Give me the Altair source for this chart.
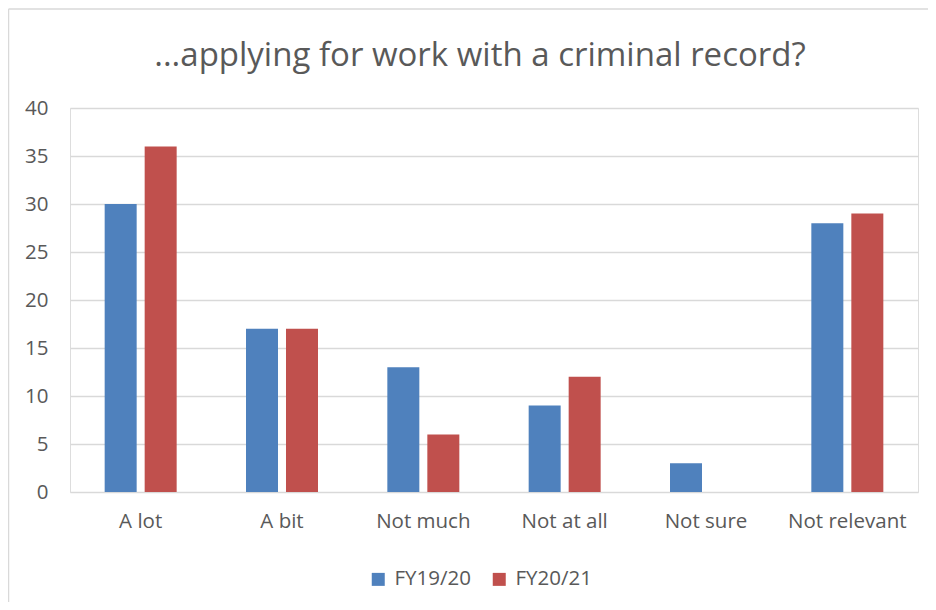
import altair as alt
import pandas as pd

categories = ["A lot", "A bit", "Not much", "Not at all", "Not sure", "Not relevant"]
series = ["FY19/20", "FY20/21"]
fy1920 = [30, 17, 13, 9, 3, 28]
fy2021 = [36, 17, 6, 12, 0, 29]
colors = ["#4F81BD", "#C0504D"]
y_ticks = [0, 5, 10, 15, 20, 25, 30, 35, 40]
title_text = "...applying for work with a criminal record?"

rows = []
for c, a, b in zip(categories, fy1920, fy2021):
    rows.append({"category": c, "series": series[0], "value": a})
    rows.append({"category": c, "series": series[1], "value": b})
df = pd.DataFrame(rows)

FONT = "Open Sans"
TXT = "#595959"
FS = 20.5

bars = alt.Chart(df).mark_bar().encode(
    x=alt.X("category:N", sort=categories, title=None,
            scale=alt.Scale(paddingInner=0.4906, paddingOuter=0.2453),
            axis=alt.Axis(labelAngle=0, domain=False, ticks=False, labelPadding=19,
                          labelFontSize=FS, labelColor=TXT, labelFont=FONT)),
    xOffset=alt.XOffset("series:N", sort=series,
                        scale=alt.Scale(paddingInner=0.2, paddingOuter=0)),
    y=alt.Y("value:Q", title=None,
            scale=alt.Scale(domain=[0, 40], nice=False),
            axis=alt.Axis(values=y_ticks, domain=False, ticks=False, labelPadding=22,
                          labelFontSize=FS, labelColor=TXT, labelFont=FONT,
                          gridColor="#D9D9D9", gridWidth=1.3)),
    color=alt.Color("series:N", sort=series,
                    scale=alt.Scale(domain=series, range=colors),
                    legend=alt.Legend(title=None, orient="none", legendX=298, legendY=461,
                                      direction="horizontal", symbolType="square",
                                      symbolSize=169, symbolStrokeWidth=0,
                                      labelFontSize=FS, labelColor=TXT, labelFont=FONT,
                                      columnPadding=18, labelOffset=6)),
)

one = pd.DataFrame({"k": [0]})
frame_top = alt.Chart(one).mark_rule(color="#D9D9D9", strokeWidth=1.5).encode(
    x=alt.value(-61.5), x2=alt.value(900), y=alt.value(-99)
)
frame_left = alt.Chart(one).mark_rule(color="#D9D9D9", strokeWidth=1.5).encode(
    x=alt.value(-61.5), y=alt.value(-99), y2=alt.value(500)
)
title_mark = alt.Chart(pd.DataFrame({"t": [title_text]})).mark_text(
    font=FONT, fontSize=33, color=TXT, align="center", baseline="alphabetic"
).encode(text="t:N", x=alt.value(410), y=alt.value(-42))

chart = alt.layer(frame_top, frame_left, title_mark, bars).properties(
    width=848, height=384,
    autosize=alt.AutoSizeParams(type="none"),
    padding={"left": 62, "top": 100, "right": 10, "bottom": 110},
).configure_view(stroke=None).configure(background="white")

chart.save("out.html", embed_options={"renderer": "svg", "actions": False})
